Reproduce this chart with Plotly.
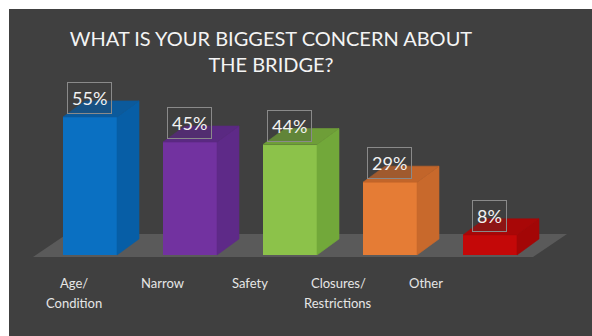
import plotly.graph_objects as go

# Survey results
categories = ["Age/<br>Condition", "Narrow", "Safety", "Closures/<br>Restrictions", "Other"]
values = [55, 45, 44, 29, 8]
front_colors = ["#0A70C2", "#7232A0", "#8CC24A", "#E57C35", "#C40808"]
side_colors = ["#075EA6", "#5E2A88", "#72A83A", "#C8692C", "#A30606"]
top_colors = ["#0B5A9C", "#5A2982", "#6E9E38", "#C2652A", "#A80707"]

W, H = 592, 336
PAD_L, PAD_T = 9, 9
BAR_W = 0.54          # front face width (category units)
DEPTH_X = 0.22        # oblique depth, x direction (category units)
DEPTH_Y = 6.4         # oblique depth, y direction (percent units)
PX_PER_UNIT_X = 100.0
PX_PER_PCT = 2.51
X0_PX, BASE_PX = 90.0, 255.0

x_range = [(PAD_L - X0_PX) / PX_PER_UNIT_X, (W - X0_PX) / PX_PER_UNIT_X]
y_range = [(BASE_PX - H) / PX_PER_PCT, (BASE_PX - PAD_T) / PX_PER_PCT]

fig = go.Figure()

# Side and top faces of each bar
for i, v in enumerate(values):
    r = i + BAR_W / 2
    l = i - BAR_W / 2
    fig.add_trace(go.Scatter(
        x=[r, r + DEPTH_X, r + DEPTH_X, r, r],
        y=[0, DEPTH_Y, v + DEPTH_Y, v, 0],
        fill="toself", fillcolor=side_colors[i], mode="lines",
        line=dict(width=0.6, color=side_colors[i]), hoverinfo="skip", showlegend=False))
    fig.add_trace(go.Scatter(
        x=[l, r, r + DEPTH_X, l + DEPTH_X, l],
        y=[v, v, v + DEPTH_Y, v + DEPTH_Y, v],
        fill="toself", fillcolor=top_colors[i], mode="lines",
        line=dict(width=0.6, color=top_colors[i]), hoverinfo="skip", showlegend=False))

# Front faces
fig.add_trace(go.Bar(
    x=list(range(len(values))), y=values, width=BAR_W,
    marker=dict(color=front_colors, line=dict(width=0)),
    hoverinfo="skip", showlegend=False))

# Floor under the bars
n = len(values)
floor_front, floor_back = -0.8, 8.4
fl, fr, fd = -0.57, n - 1 + 0.43, 0.34
fig.add_shape(type="path", xref="x", yref="y", layer="below",
              path=f"M {fl},{floor_front} L {fr},{floor_front} L {fr + fd},{floor_back} "
                   f"L {fl + fd},{floor_back} Z",
              fillcolor="#5A5A5A", line=dict(width=0))

# Value labels in boxes above the bars
for i, v in enumerate(values):
    fig.add_annotation(x=i, y=v, xref="x", yref="y", text=f"{v}%",
                       showarrow=False, yanchor="bottom", yshift=3, xshift=-1,
                       font=dict(family="Lato", size=18, color="#F2F2F2"),
                       bordercolor="#8A8A8A", borderwidth=1, borderpad=4,
                       bgcolor="rgba(60,60,60,0.25)")

# Category labels, one annotation per text line
for i, c in enumerate(categories):
    for j, line in enumerate(c.split("<br>")):
        fig.add_annotation(x=(74 + 88 * i - X0_PX) / PX_PER_UNIT_X,
                           y=1 - (282 + 20 * j) / H,
                           xref="x", yref="paper", text=line, showarrow=False,
                           yanchor="middle", align="center",
                           font=dict(family="Lato", size=13, color="#E6E6E6"))

fig.update_layout(
    width=W, height=H,
    margin=dict(l=PAD_L, r=0, t=PAD_T, b=0),
    paper_bgcolor="white", plot_bgcolor="#404040",
    title=dict(text="WHAT IS YOUR BIGGEST CONCERN ABOUT<br>THE BRIDGE?",
               x=271 / W, xanchor="center", y=1 - 46 / H, yanchor="middle",
               font=dict(family="Lato", size=20, color="#F4F4F4")),
    xaxis=dict(range=x_range, visible=False, fixedrange=True),
    yaxis=dict(range=y_range, visible=False, fixedrange=True),
    bargap=0,
)

fig.write_html("out.html")
